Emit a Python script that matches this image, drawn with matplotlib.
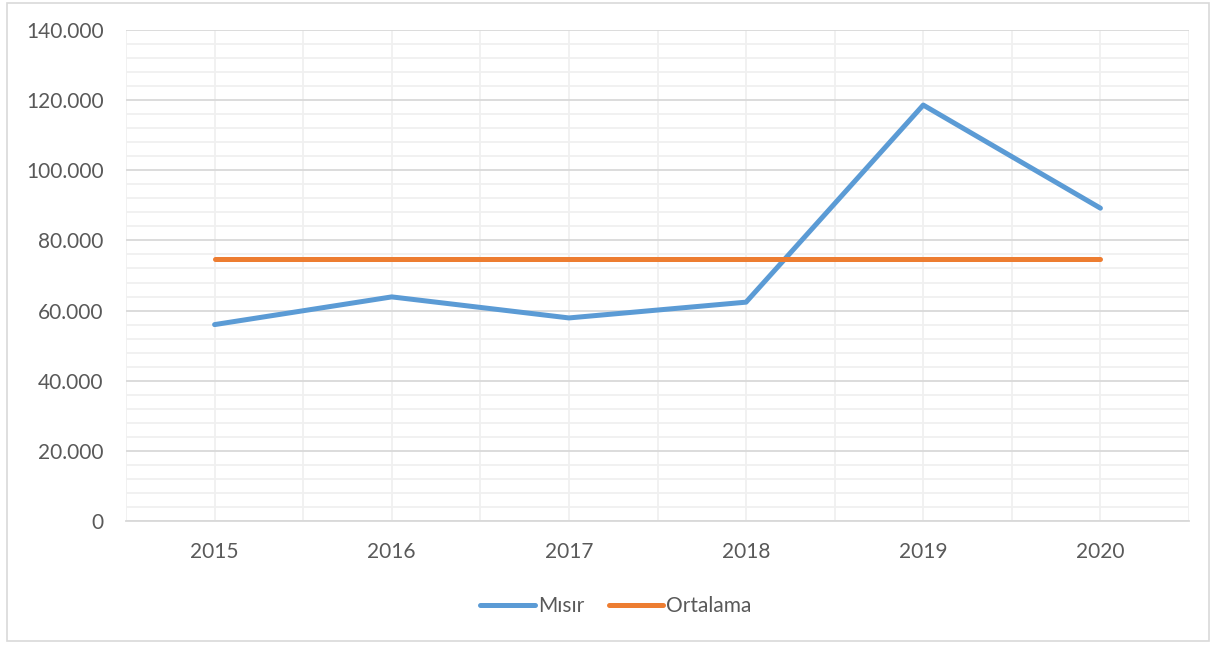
import matplotlib.pyplot as plt
from matplotlib.ticker import FuncFormatter, MultipleLocator
from matplotlib.patches import Rectangle

years = ['2015', '2016', '2017', '2018', '2019', '2020']
misir = [56000, 63900, 57900, 62400, 118600, 89200]
ortalama = [sum(misir) / len(misir)] * len(misir)

plt.rcParams['font.family'] = ['Lato', 'DejaVu Sans']
text_color = '#595959'

fig = plt.figure(figsize=(12.17, 6.46), dpi=100)
ax = fig.add_axes([126 / 1217, 1 - 521 / 646, (1189 - 126) / 1217, (521 - 30) / 646])

x = list(range(len(years)))
ax.plot(x, misir, color='#5b9bd5', lw=3.6, solid_capstyle='round', label='Mısır', zorder=3)
ax.plot(x, ortalama, color='#ed7d31', lw=3.6, solid_capstyle='round', label='Ortalama', zorder=3)

ax.set_xlim(-0.5, len(years) - 0.5)
ax.set_ylim(0, 140000)
ax.set_xticks(x)
ax.set_xticklabels(years)
ax.xaxis.set_minor_locator(MultipleLocator(0.5))
ax.yaxis.set_major_locator(MultipleLocator(20000))
ax.yaxis.set_minor_locator(MultipleLocator(4000))
ax.yaxis.set_major_formatter(FuncFormatter(lambda v, p: f'{int(v):,}'.replace(',', '.')))

ax.grid(True, which='major', axis='y', color='#d9d9d9', lw=1.3)
ax.grid(True, which='minor', axis='y', color='#f0f0f0', lw=1.3)
ax.grid(True, which='both', axis='x', color='#f0f0f0', lw=1.3)
ax.set_axisbelow(True)

for side in ['top', 'right', 'left']:
    ax.spines[side].set_visible(False)
ax.spines['bottom'].set_color('#d9d9d9')
ax.spines['bottom'].set_linewidth(1.3)
ax.tick_params(which='both', length=0, colors=text_color, labelsize=15)
ax.tick_params(axis='x', pad=15)
ax.tick_params(axis='y', pad=16)

leg = fig.legend(loc='center', bbox_to_anchor=(616 / 1217, 1 - 606 / 646), ncol=2, frameon=False,
                 fontsize=15, handlelength=2.6, handletextpad=0.15, columnspacing=1.2)
for t in leg.get_texts():
    t.set_color(text_color)

fig.patches.append(Rectangle((7 / 1217, 5 / 646), 1202 / 1217, 638 / 646, transform=fig.transFigure,
                             fill=False, edgecolor='#d9d9d9', lw=1.2))

fig.savefig('out.png', dpi=100)
